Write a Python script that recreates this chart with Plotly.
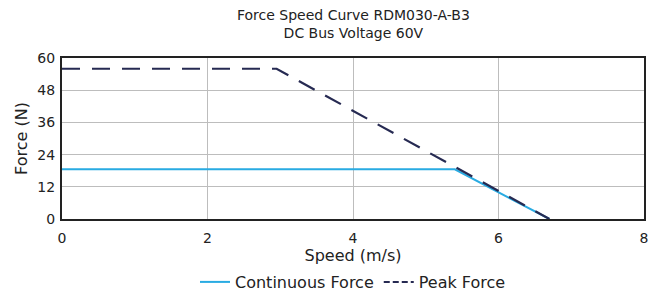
import plotly.graph_objects as go

speed_cont = [0, 5.4, 6.7]
force_cont = [18.5, 18.5, 0]
speed_peak = [0, 2.95, 6.7]
force_peak = [56, 56, 0]
x_ticks = [0, 2, 4, 6, 8]
y_ticks = [0, 12, 24, 36, 48, 60]

font = "DejaVu Sans"
OFF = 8  # page body margin
W, H = 664 - OFF, 298 - OFF
L, R = 62 - OFF, 20
T, B = 58 - OFF, 79
PH = H - T - B
PEAK_COLOR = "#262a52"

def py(pix):
    # pixel y in the screenshot -> paper coordinate
    return (H - B - (pix - OFF)) / PH

fig = go.Figure()
fig.add_trace(go.Scatter(x=speed_cont, y=force_cont, mode="lines", name="Continuous Force",
                         line=dict(color="#29abe2", width=2)))
fig.add_trace(go.Scatter(x=speed_peak, y=force_peak, mode="lines", name="Peak Force",
                         showlegend=False,
                         line=dict(color=PEAK_COLOR, width=2.2, dash="18px,12px")))
# legend entry for the peak curve (short dashes, as in the reference legend)
fig.add_trace(go.Scatter(x=[None], y=[None], mode="lines", name="Peak Force",
                         line=dict(color=PEAK_COLOR, width=2, dash="6px,3px")))

fig.add_annotation(text="Force Speed Curve RDM030-A-B3<br>DC Bus Voltage 60V",
                   xref="paper", yref="paper", x=0.5, y=py(24), xanchor="center", yanchor="middle",
                   showarrow=False, font=dict(size=14, family=font, color="#222"))

fig.update_layout(
    width=W, height=H,
    margin=dict(l=L, r=R, t=T, b=B),
    paper_bgcolor="white", plot_bgcolor="white",
    font=dict(family=font, size=13, color="#222"),
    xaxis=dict(range=[0, 8], tickvals=x_ticks, showgrid=True, gridcolor="#bdbdbd", gridwidth=1,
               showline=True, linecolor="#222", linewidth=2, mirror=True, zeroline=False,
               ticks="", automargin=False, tickfont=dict(size=14), ticklabelstandoff=5,
               title=dict(text="Speed (m/s)", standoff=11, font=dict(size=16))),
    yaxis=dict(range=[0, 60], tickvals=y_ticks, showgrid=True, gridcolor="#bdbdbd", gridwidth=1,
               showline=True, linecolor="#222", linewidth=2, mirror=True, zeroline=False,
               ticks="", automargin=False, tickfont=dict(size=14), ticklabelstandoff=2,
               title=dict(text="Force (N)", standoff=6, font=dict(size=16))),
    legend=dict(orientation="h", x=0.5, xanchor="center", yref="container",
                y=1 - (282 - OFF) / H, yanchor="middle",
                font=dict(size=16), tracegroupgap=0, bgcolor="rgba(0,0,0,0)"),
    showlegend=True,
)
fig.write_html("out.html")
